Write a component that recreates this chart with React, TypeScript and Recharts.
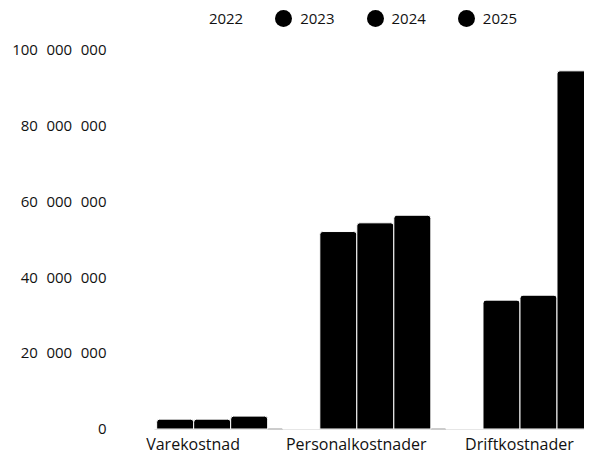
import React from "react"
import { Bar, BarChart, Legend, XAxis, YAxis } from "recharts"

const categories = ["Varekostnad", "Personalkostnader", "Driftkostnader"]
const years = ["2022", "2023", "2024", "2025"]

// 2022 is drawn white in the source, so its heights are not visible
const values2022 = [2400000, 50000000, 32000000]
const values2023 = [2600000, 52100000, 34000000]
const values2024 = [2600000, 54400000, 35300000]
const values2025 = [3400000, 56400000, 94500000]

const yTicks = [0, 20000000, 40000000, 60000000, 80000000, 100000000]

const yearColors: Record<string, string> = {
  "2022": "#ffffff",
  "2023": "#000000",
  "2024": "#000000",
  "2025": "#000000",
}

const FONT = "'Open Sans', sans-serif"
const TEXT = "#111111"

const chartData = categories.map((name, i) => ({
  name,
  "2022": values2022[i],
  "2023": values2023[i],
  "2024": values2024[i],
  "2025": values2025[i],
}))

// thousands separated with a figure space, like the source
const formatNumber = (v: number) => String(v).replace(/\B(?=(\d{3})+(?!\d))/g, "\u2007")

function YTick(props: any) {
  const { x, y, payload } = props
  return (
    <text x={x} y={y} dy="0.35em" textAnchor="end" fill={TEXT} fontSize={15} fontFamily={FONT}>
      {formatNumber(payload.value)}
    </text>
  )
}

function XTick(props: any) {
  const { x, y, payload } = props
  return (
    <text x={x} y={y + 2} dy="0.71em" textAnchor="middle" fill={TEXT} fontSize={16} fontFamily={FONT}>
      {payload.value}
    </text>
  )
}

function LegendContent() {
  return (
    <div
      style={{
        display: "flex",
        justifyContent: "center",
        fontFamily: FONT,
        fontSize: 15,
        color: TEXT,
        height: 22,
        paddingLeft: 92,
      }}
    >
      {years.map((year) => (
        <div key={year} style={{ display: "flex", alignItems: "center", margin: "0 16px" }}>
          <span
            style={{
              display: "inline-block",
              width: 17,
              height: 17,
              borderRadius: "50%",
              background: yearColors[year],
              marginRight: 8,
            }}
          />
          <span>{year}</span>
        </div>
      ))}
    </div>
  )
}

export default function App() {
  return (
    <div style={{ width: 584, height: 450, overflow: "hidden", marginBottom: -8 }}>
      <BarChart
        width={593}
        height={450}
        data={chartData}
        margin={{ top: 20, right: 0, left: 0, bottom: 0 }}
        barGap={0}
        barCategoryGap="5%"
      >
        <XAxis
          dataKey="name"
          axisLine={{ stroke: "#999999", strokeDasharray: "0 43 2000" }}
          tickLine={false}
          tick={<XTick />}
          height={29}
          interval={0}
        />
        <YAxis
          domain={[0, 100000000]}
          ticks={yTicks}
          axisLine={false}
          tickLine={false}
          tickSize={0}
          tickMargin={5}
          width={103.5}
          tick={<YTick />}
        />
        <Legend verticalAlign="top" wrapperStyle={{ top: -1 }} content={<LegendContent />} />
        {years.map((year) => (
          <Bar
            key={year}
            dataKey={year}
            fill={yearColors[year]}
            stroke="#ffffff"
            strokeWidth={1}
            radius={[3, 3, 0, 0]}
            zIndex={600}
            isAnimationActive={false}
          />
        ))}
      </BarChart>
    </div>
  )
}
